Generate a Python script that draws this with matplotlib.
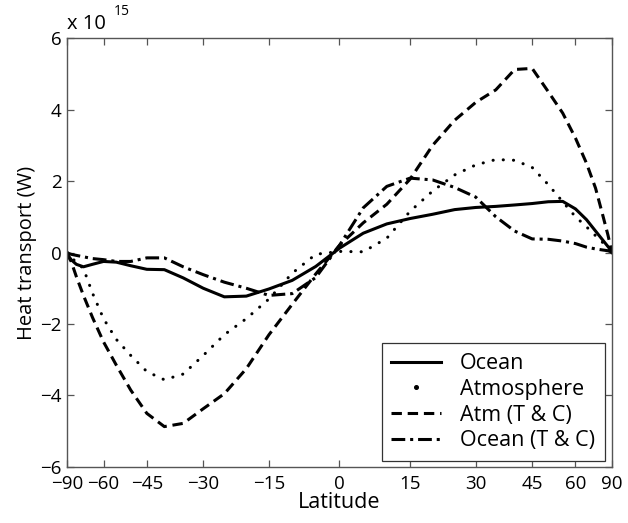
import numpy as np
import matplotlib
matplotlib.use("Agg")
import matplotlib.pyplot as plt
from matplotlib.lines import Line2D

plt.rcParams['font.family'] = ['Open Sans', 'DejaVu Sans']

# latitude grid (degrees) and northward heat transport (units of 1e15 W)
lat = [-90, -85, -80, -75, -70, -65, -60, -55, -50, -45, -40, -35, -30, -25,
       -20, -15, -10, -5, 0, 5, 10, 15, 20, 25, 30, 35, 40, 45, 50, 55, 60,
       65, 70, 75, 80, 85, 90]

ocean = [0, -0.08, -0.2, -0.33, -0.4, -0.33, -0.25, -0.27, -0.37, -0.47, -0.48,
         -0.71, -1.0, -1.24, -1.22, -1.02, -0.78, -0.39, 0.12, 0.54, 0.8, 0.95,
         1.07, 1.2, 1.26, 1.29, 1.33, 1.37, 1.42, 1.43, 1.22, 0.92, 0.6, 0.35,
         0.17, 0.06, 0]

atmosphere = [0, -0.05, -0.15, -0.26, -0.45, -1.14, -1.85, -2.43, -2.88, -3.33,
              -3.56, -3.4, -2.88, -2.3, -1.85, -1.3, -0.58, -0.05, 0.03, 0.02,
              0.4, 1.15, 1.72, 2.17, 2.45, 2.6, 2.58, 2.38, 1.9, 1.42, 1.0,
              0.72, 0.47, 0.28, 0.14, 0.05, 0]

atm_tc = [0, -0.1, -0.25, -0.67, -1.2, -1.82, -2.5, -3.15, -3.85, -4.5, -4.87,
          -4.78, -4.37, -3.95, -3.25, -2.3, -1.45, -0.6, 0.2, 0.83, 1.35, 2.05,
          3.0, 3.7, 4.2, 4.55, 5.12, 5.15, 4.5, 3.9, 3.2, 2.5, 1.8, 1.05, 0.5,
          0.12, 0]

ocean_tc = [0, -0.02, -0.05, -0.08, -0.12, -0.17, -0.2, -0.25, -0.25, -0.15,
            -0.15, -0.4, -0.62, -0.83, -1.0, -1.2, -1.15, -0.7, 0.2, 1.25,
            1.85, 2.08, 2.03, 1.82, 1.55, 1.0, 0.6, 0.38, 0.37, 0.32, 0.25,
            0.15, 0.1, 0.07, 0.05, 0.02, 0]

tick_lats = [-90, -60, -45, -30, -15, 0, 15, 30, 45, 60, 90]

fig = plt.figure(figsize=(6.28, 5.23), dpi=100)
ax = fig.add_axes([0.1067, 0.1071, 0.8678, 0.8202])

# area-weighted latitude axis: plot against sin(latitude)
x = np.sin(np.radians(lat))
lw = 2.2
l1, = ax.plot(x, ocean, color='black', lw=lw, ls='-')
ax.plot(x, atmosphere, color='black', lw=lw, ls=(0, (0.05, 3.3)),
        dash_capstyle='round')
l3, = ax.plot(x, atm_tc, color='black', lw=lw, ls=(0, (3.4, 1.9)))
l4, = ax.plot(x, ocean_tc, color='black', lw=lw, ls=(0, (4.5, 1.6, 1.0, 1.6)))

# the dotted series shows up as a single dot in the key
dot = Line2D([], [], ls='none', marker='o', ms=2.6, color='black')

ax.set_xlim(-1, 1)
ax.set_ylim(-6, 6)
ax.set_xticks(np.sin(np.radians(tick_lats)))
ax.set_xticklabels([str(t).replace('-', '\u2212') for t in tick_lats])
ax.set_yticks([-6, -4, -2, 0, 2, 4, 6])
ax.set_yticklabels(['\u22126', '\u22124', '\u22122', '0', '2', '4', '6'])

ax.tick_params(direction='in', length=5, width=0.9, color='#555555',
               top=True, right=True, labelsize=13.5)
ax.tick_params(axis='x', pad=6)
ax.tick_params(axis='y', pad=4)
for s in ax.spines.values():
    s.set_color('#555555')
    s.set_linewidth(1.0)

ax.set_xlabel('Latitude', fontsize=15.5, labelpad=-1)
ax.set_ylabel('Heat transport (W)', fontsize=14.5, labelpad=2)

# exponent label above the y axis
ax.text(0.0, 1.01, 'x 10', transform=ax.transAxes, fontsize=14.5,
        ha='left', va='bottom')
ax.text(0.086, 1.045, '15', transform=ax.transAxes, fontsize=10,
        ha='left', va='bottom')

leg = ax.legend([l1, dot, l3, l4],
                ['Ocean', 'Atmosphere', 'Atm (T & C)', 'Ocean (T & C)'],
                loc='lower right', bbox_to_anchor=(0.987, 0.014),
                borderaxespad=0, fontsize=15.5, handlelength=2.3,
                handletextpad=0.9, labelspacing=0.22, borderpad=0.45,
                fancybox=False, framealpha=1)
leg.get_frame().set_edgecolor('#333333')
leg.get_frame().set_linewidth(0.9)

fig.savefig('out.png', dpi=100)
